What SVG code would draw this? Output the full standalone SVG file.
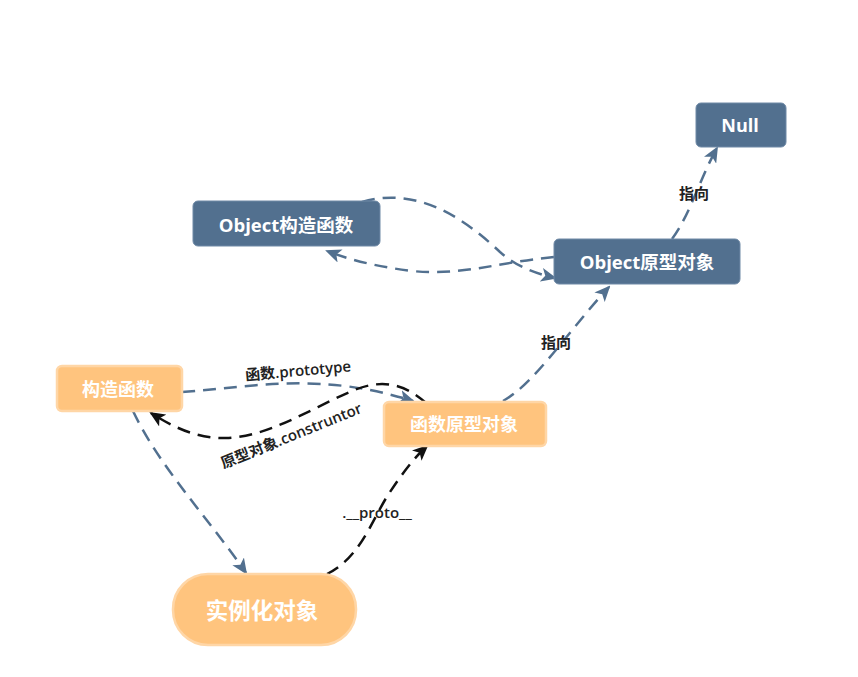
<svg xmlns="http://www.w3.org/2000/svg" width="858" height="677" viewBox="0 0 858 677">
<defs>
<style>
.bn{fill:#52708F;stroke:#6E89A6;stroke-width:1}
.on{fill:#FFC47E;stroke:#FFD6A6;stroke-width:2.5}
.t{font-family:"Open Sans","Noto Sans CJK SC",sans-serif;font-weight:bold;fill:#fff;text-anchor:middle;dominant-baseline:central}
.cb{fill:none;stroke:#52708F;stroke-width:2.5;stroke-dasharray:13 8}
.ck{fill:none;stroke:#111;stroke-width:2.5;stroke-dasharray:13 8}
.lb{font-family:"Open Sans","Noto Sans CJK SC",sans-serif;font-size:15px;font-weight:600;fill:#222;text-anchor:middle;dominant-baseline:central}
</style>
<marker id="ab" viewBox="0 0 16 14" refX="14" refY="7" markerWidth="16" markerHeight="14" markerUnits="userSpaceOnUse" orient="auto"><path d="M0,0 L16,7 L0,14 L4,7 Z" fill="#52708F"/></marker>
<marker id="ak" viewBox="0 0 16 14" refX="14" refY="7" markerWidth="16" markerHeight="14" markerUnits="userSpaceOnUse" orient="auto"><path d="M0,0 L16,7 L0,14 L4,7 Z" fill="#111"/></marker>
</defs>
<rect width="858" height="677" fill="#fff"/>
<g id="connectors">
<path class="cb" d="M182,392 C260,386 320,372 413,401" marker-end="url(#ab)"/>
<path class="ck" d="M426,403 C405,384 382,378 352,391 C310,409 268,437 226,438 C195,439 170,425 151,413" marker-end="url(#ak)"/>
<path class="cb" d="M133,411 C160,468 210,520 246,573" marker-end="url(#ab)"/>
<path class="ck" d="M327,574 C360,558 372,520 388,495 C402,474 412,460 427,446" marker-end="url(#ak)"/>
<path class="cb" d="M503,401 C535,383 565,335 609,287" marker-end="url(#ab)"/>
<path class="cb" d="M672,239 C690,215 700,178 717,148" marker-end="url(#ab)"/>
<path class="cb" d="M362,202 C420,185 468,222 500,252 C518,268 538,274 555,278" marker-end="url(#ab)"/>
<path class="cb" d="M554,257 C500,262 462,276 412,271 C372,266 348,259 327,251" marker-end="url(#ab)"/>
<text class="lb" transform="translate(298,370) rotate(-5)">函数.prototype</text>
<text class="lb" transform="translate(291,435) rotate(-22)">原型对象.construntor</text>
<text class="lb" x="377" y="512">.__proto__</text>
<text class="lb" x="556" y="342">指向</text>
<text class="lb" x="694" y="193">指向</text>
</g>
<g id="null"><rect class="bn" x="696" y="103" width="90" height="44" rx="5"/><text class="t" x="740" y="125" font-size="18">Null</text></g>
<g id="objctor"><rect class="bn" x="193" y="201" width="187" height="45" rx="5"/><text class="t" x="286" y="224" font-size="18.5">Object构造函数</text></g>
<g id="objproto"><rect class="bn" x="554" y="239" width="186" height="45" rx="5"/><text class="t" x="647" y="261" font-size="18.5">Object原型对象</text></g>
<g id="ctor"><rect class="on" x="57" y="366" width="125" height="45" rx="5"/><text class="t" x="118" y="389" font-size="18">构造函数</text></g>
<g id="fnproto"><rect class="on" x="384" y="402" width="162" height="44" rx="5"/><text class="t" x="464" y="424" font-size="18">函数原型对象</text></g>
<g id="instance"><rect class="on" x="173" y="574" width="183" height="71" rx="35"/><text class="t" x="262" y="610" font-size="22.5">实例化对象</text></g>
</svg>
